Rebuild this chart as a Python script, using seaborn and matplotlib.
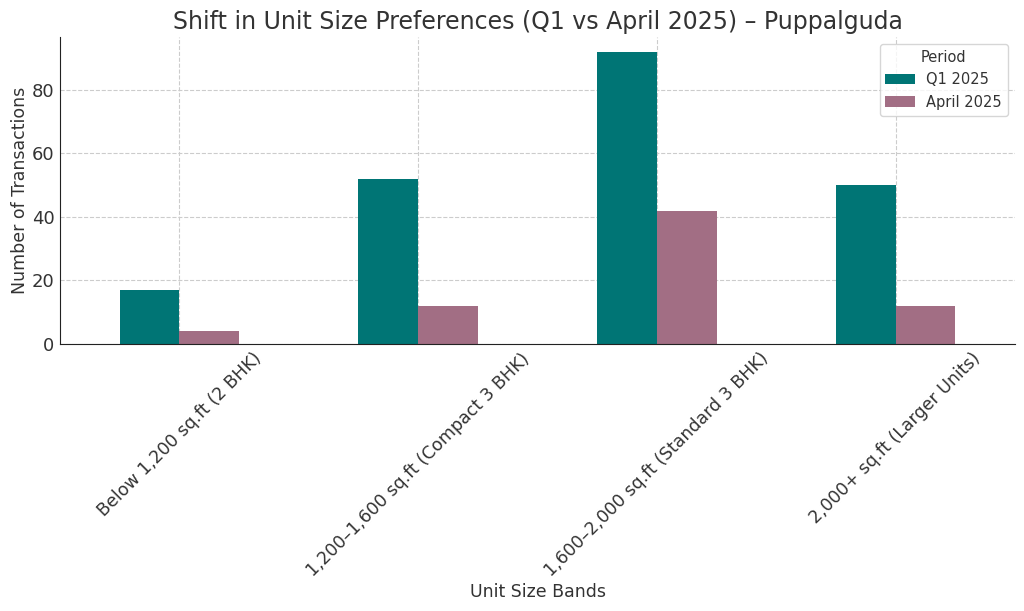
import matplotlib
matplotlib.use("Agg")
import matplotlib.pyplot as plt
import seaborn as sns
import pandas as pd

categories = ["Below 1,200 sq.ft (2 BHK)", "1,200–1,600 sq.ft (Compact 3 BHK)",
              "1,600–2,000 sq.ft (Standard 3 BHK)", "2,000+ sq.ft (Larger Units)"]
q1_2025 = [17, 52, 92, 50]
april_2025 = [4, 12, 42, 12]
periods = ["Q1 2025", "April 2025"]

df = pd.DataFrame({
    "Unit Size Bands": categories * 2,
    "Number of Transactions": q1_2025 + april_2025,
    "Period": [periods[0]] * 4 + [periods[1]] * 4,
})

sns.set_style("white")
plt.rcParams["font.family"] = ["DejaVu Sans"]
plt.rcParams["text.color"] = "#333333"
plt.rcParams["axes.labelcolor"] = "#333333"
plt.rcParams["xtick.color"] = "#333333"
plt.rcParams["ytick.color"] = "#333333"

fig, ax = plt.subplots(figsize=(10.24, 6.11), dpi=100)
sns.barplot(data=df, x="Unit Size Bands", y="Number of Transactions", hue="Period",
            palette=["#007575", "#a26e84"], width=0.5, gap=0, saturation=1,
            errorbar=None, linewidth=0, ax=ax)
ax.set_xlim(-0.5, 3.5)
ax.grid(True, linestyle="--", color="#cccccc", linewidth=0.8)
ax.set_axisbelow(True)
sns.despine(ax=ax)
ax.spines["left"].set_color("#222222")
ax.spines["bottom"].set_color("#222222")
ax.tick_params(axis="both", labelsize=13, length=0, pad=4)
ax.set_xticks(range(4))
ax.set_xticklabels(categories, rotation=45, ha="center", fontsize=12.5)
ax.set_xlabel("Unit Size Bands", fontsize=12.5, labelpad=2)
ax.set_ylabel("Number of Transactions", fontsize=12.5, labelpad=2)
ax.set_title("Shift in Unit Size Preferences (Q1 vs April 2025) – Puppalguda", fontsize=17)
leg = ax.legend(title="Period", fontsize=10.5, title_fontsize=10.5, loc="upper right")
fig.subplots_adjust(left=60/1024, right=1015/1024, top=1-37/611, bottom=1-344/611)
fig.savefig("out.png", dpi=100)
